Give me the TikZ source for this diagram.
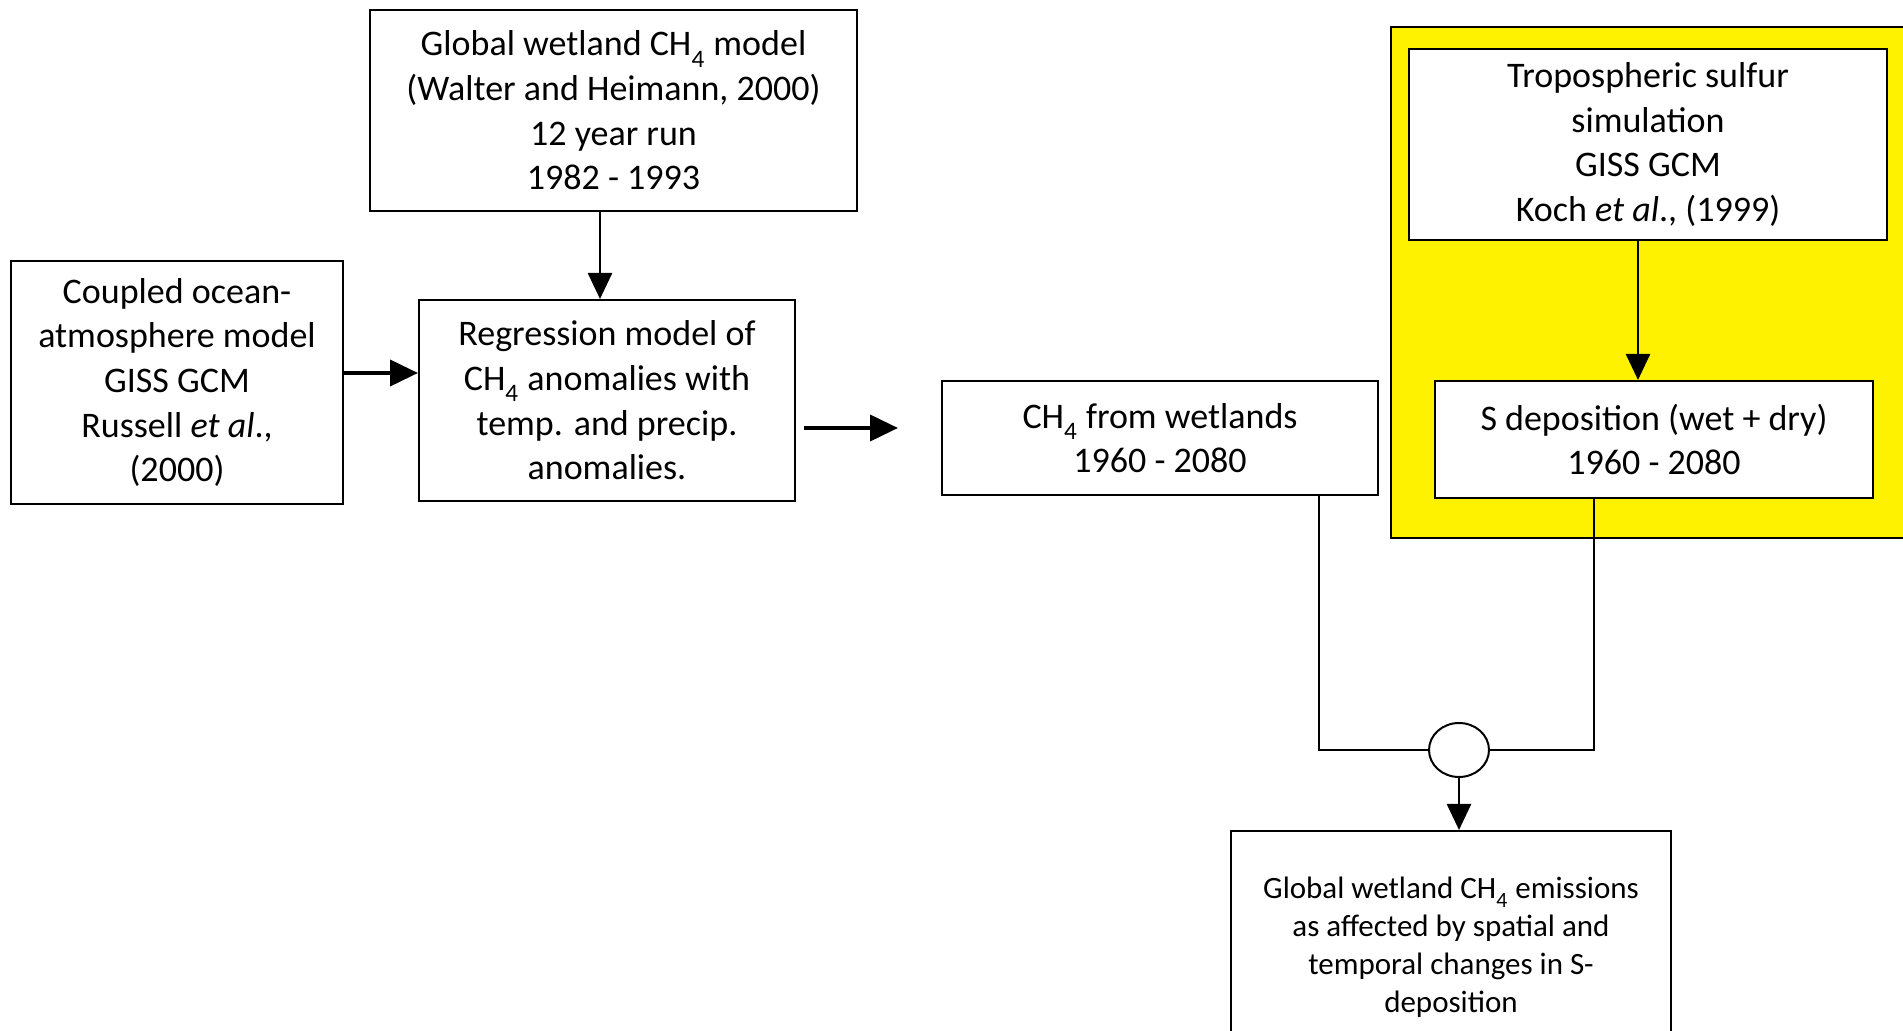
\documentclass[tikz,border=0pt]{standalone}
\usepackage{fontspec}
\setmainfont{Carlito}
\usepackage{tikz}
\usetikzlibrary{positioning, arrows.meta, shapes.geometric}

\newcommand{\chfour}{CH\raisebox{-0.35ex}{\textsubscript{4}}}

\begin{document}
\begin{tikzpicture}[
  x=0.5pt, y=-0.5pt,
  font=\fontsize{18}{22.3}\selectfont,
  box/.style={draw, line width=1pt, fill=white, align=center, inner sep=0pt},
  panel/.style={draw, line width=1pt, fill=yellow, inner sep=0pt},
  harr/.style={-{Triangle[length=14pt, width=13pt]}, line width=2pt},
  varr/.style={-{Triangle[length=13pt, width=12pt]}, line width=1.3pt},
  link/.style={line width=1pt}
]
  \useasboundingbox (0,0) rectangle (1903,1031);

  % --- yellow panel behind the sulfur boxes ---
  \node[panel, minimum width=262pt, minimum height=255.5pt] (sulf) at (1653,282.5) {};

  % --- left column ---
  \node[box, minimum width=243.5pt, minimum height=100.5pt] (glob) at (613.5,110.5)
    {Global wetland \chfour{} model\\(Walter and Heimann, 2000)\\12 year run\\1982 - 1993};
  \node[box, minimum width=166pt, minimum height=121.5pt] (gcm) at (177,382.5)
    {Coupled ocean-\\atmosphere model\\GISS GCM\\Russell \textit{et al}.,\\(2000)};
  \node[box, minimum width=188pt, minimum height=100.5pt] (regr) at (607,400.5)
    {Regression model of\\\chfour{} anomalies with\\temp. and precip.\\anomalies.};

  % --- middle and right ---
  \node[box, minimum width=218pt, minimum height=57pt] (wet) at (1160,438)
    {\chfour{} from wetlands\\1960 - 2080};
  \node[box, minimum width=239pt, minimum height=95.5pt] (tropo) at (1648,144.5)
    {Tropospheric sulfur\\simulation\\GISS GCM\\Koch \textit{et al}., (1999)};
  \node[box, minimum width=219pt, minimum height=58.5pt] (sdep) at (1654,439.5)
    {S deposition (wet + dry)\\1960 - 2080};

  % --- combination and result ---
  \node[draw, ellipse, line width=1pt, fill=white, minimum width=30pt, minimum height=27pt,
        inner sep=0pt] (mix) at (1459,750) {};
  \node[box, minimum width=220pt, minimum height=116pt,
        font=\fontsize{15.5}{19}\selectfont] (res) at (1451,947)
    {Global wetland \chfour{} emissions\\as affected by spatial and\\temporal changes in S-\\deposition};

  \coordinate (gap) at (898,428);

  % --- connectors ---
  \draw[harr] ([yshift=4.75pt]gcm.east) -- ([yshift=4.75pt]gcm.east -| regr.west);
  \draw[varr] ([xshift=-3.5pt]regr.north |- glob.south) -- ([xshift=-3.5pt]regr.north);
  \draw[harr, shorten <=4pt] (regr.east |- gap) -- (gap);
  \draw[varr] ([xshift=-8pt]sdep.north |- tropo.south) -- ([xshift=-8pt]sdep.north);
  \draw[link] ([xshift=-30pt]wet.south east) |- (mix.west);
  \draw[link] ([xshift=-30pt]sdep.south) |- (mix.east);
  \draw[varr] (mix.south) -- (mix.south |- res.north);
\end{tikzpicture}
\end{document}
